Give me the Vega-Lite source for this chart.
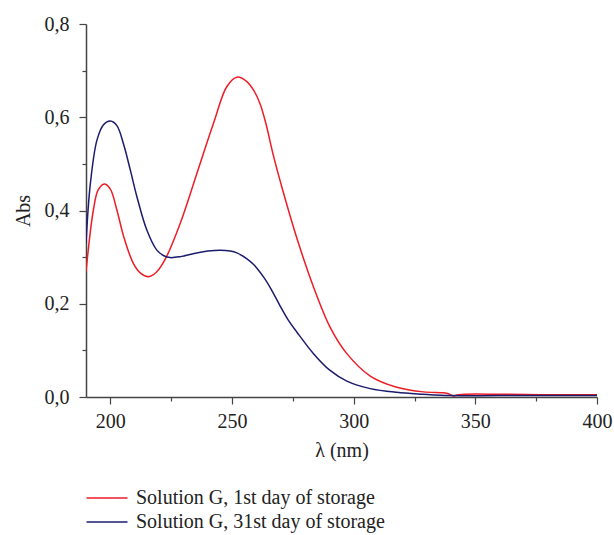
{
  "$schema": "https://vega.github.io/schema/vega-lite/v6.json",
  "autosize": "none",
  "width": 511,
  "height": 373,
  "padding": {"left": 86, "top": 24, "right": 17, "bottom": 138},
  "background": "white",
  "config": {
    "view": {"stroke": null},
    "font": "Liberation Serif"
  },
  "datasets": {
    "spectra": [
      {"nm": 190, "abs": 0.269, "series": "Solution G, 1st day of storage"},
      {"nm": 193, "abs": 0.400, "series": "Solution G, 1st day of storage"},
      {"nm": 195, "abs": 0.444, "series": "Solution G, 1st day of storage"},
      {"nm": 197.5, "abs": 0.457, "series": "Solution G, 1st day of storage"},
      {"nm": 200, "abs": 0.446, "series": "Solution G, 1st day of storage"},
      {"nm": 202.5, "abs": 0.405, "series": "Solution G, 1st day of storage"},
      {"nm": 205.5, "abs": 0.344, "series": "Solution G, 1st day of storage"},
      {"nm": 209.5, "abs": 0.286, "series": "Solution G, 1st day of storage"},
      {"nm": 212.5, "abs": 0.265, "series": "Solution G, 1st day of storage"},
      {"nm": 215.7, "abs": 0.258, "series": "Solution G, 1st day of storage"},
      {"nm": 219, "abs": 0.268, "series": "Solution G, 1st day of storage"},
      {"nm": 223, "abs": 0.300, "series": "Solution G, 1st day of storage"},
      {"nm": 228.7, "abs": 0.372, "series": "Solution G, 1st day of storage"},
      {"nm": 235.6, "abs": 0.480, "series": "Solution G, 1st day of storage"},
      {"nm": 242.4, "abs": 0.587, "series": "Solution G, 1st day of storage"},
      {"nm": 247.9, "abs": 0.666, "series": "Solution G, 1st day of storage"},
      {"nm": 252, "abs": 0.686, "series": "Solution G, 1st day of storage"},
      {"nm": 256, "abs": 0.677, "series": "Solution G, 1st day of storage"},
      {"nm": 259, "abs": 0.657, "series": "Solution G, 1st day of storage"},
      {"nm": 261.6, "abs": 0.628, "series": "Solution G, 1st day of storage"},
      {"nm": 264, "abs": 0.585, "series": "Solution G, 1st day of storage"},
      {"nm": 267.1, "abs": 0.516, "series": "Solution G, 1st day of storage"},
      {"nm": 271.2, "abs": 0.437, "series": "Solution G, 1st day of storage"},
      {"nm": 276.7, "abs": 0.340, "series": "Solution G, 1st day of storage"},
      {"nm": 283.5, "abs": 0.236, "series": "Solution G, 1st day of storage"},
      {"nm": 290.3, "abs": 0.150, "series": "Solution G, 1st day of storage"},
      {"nm": 297.2, "abs": 0.093, "series": "Solution G, 1st day of storage"},
      {"nm": 306.8, "abs": 0.045, "series": "Solution G, 1st day of storage"},
      {"nm": 317.7, "abs": 0.021, "series": "Solution G, 1st day of storage"},
      {"nm": 328.7, "abs": 0.011, "series": "Solution G, 1st day of storage"},
      {"nm": 337, "abs": 0.009, "series": "Solution G, 1st day of storage"},
      {"nm": 339, "abs": 0.007, "series": "Solution G, 1st day of storage"},
      {"nm": 341, "abs": 0.002, "series": "Solution G, 1st day of storage"},
      {"nm": 343, "abs": 0.005, "series": "Solution G, 1st day of storage"},
      {"nm": 360, "abs": 0.006, "series": "Solution G, 1st day of storage"},
      {"nm": 380, "abs": 0.005, "series": "Solution G, 1st day of storage"},
      {"nm": 400, "abs": 0.005, "series": "Solution G, 1st day of storage"},

      {"nm": 190, "abs": 0.330, "series": "Solution G, 31st day of storage"},
      {"nm": 191.8, "abs": 0.458, "series": "Solution G, 31st day of storage"},
      {"nm": 194.5, "abs": 0.551, "series": "Solution G, 31st day of storage"},
      {"nm": 197.2, "abs": 0.584, "series": "Solution G, 31st day of storage"},
      {"nm": 200, "abs": 0.592, "series": "Solution G, 31st day of storage"},
      {"nm": 202.7, "abs": 0.582, "series": "Solution G, 31st day of storage"},
      {"nm": 205.5, "abs": 0.541, "series": "Solution G, 31st day of storage"},
      {"nm": 208.2, "abs": 0.487, "series": "Solution G, 31st day of storage"},
      {"nm": 210.9, "abs": 0.430, "series": "Solution G, 31st day of storage"},
      {"nm": 215, "abs": 0.358, "series": "Solution G, 31st day of storage"},
      {"nm": 219.1, "abs": 0.315, "series": "Solution G, 31st day of storage"},
      {"nm": 222, "abs": 0.303, "series": "Solution G, 31st day of storage"},
      {"nm": 224.6, "abs": 0.299, "series": "Solution G, 31st day of storage"},
      {"nm": 228.7, "abs": 0.301, "series": "Solution G, 31st day of storage"},
      {"nm": 235.6, "abs": 0.309, "series": "Solution G, 31st day of storage"},
      {"nm": 240, "abs": 0.313, "series": "Solution G, 31st day of storage"},
      {"nm": 245.2, "abs": 0.315, "series": "Solution G, 31st day of storage"},
      {"nm": 249.3, "abs": 0.313, "series": "Solution G, 31st day of storage"},
      {"nm": 252, "abs": 0.309, "series": "Solution G, 31st day of storage"},
      {"nm": 256, "abs": 0.297, "series": "Solution G, 31st day of storage"},
      {"nm": 258.9, "abs": 0.284, "series": "Solution G, 31st day of storage"},
      {"nm": 263, "abs": 0.257, "series": "Solution G, 31st day of storage"},
      {"nm": 266, "abs": 0.232, "series": "Solution G, 31st day of storage"},
      {"nm": 269.8, "abs": 0.195, "series": "Solution G, 31st day of storage"},
      {"nm": 273, "abs": 0.166, "series": "Solution G, 31st day of storage"},
      {"nm": 276.7, "abs": 0.139, "series": "Solution G, 31st day of storage"},
      {"nm": 283.5, "abs": 0.093, "series": "Solution G, 31st day of storage"},
      {"nm": 290.3, "abs": 0.057, "series": "Solution G, 31st day of storage"},
      {"nm": 297.2, "abs": 0.034, "series": "Solution G, 31st day of storage"},
      {"nm": 306.8, "abs": 0.018, "series": "Solution G, 31st day of storage"},
      {"nm": 317.7, "abs": 0.010, "series": "Solution G, 31st day of storage"},
      {"nm": 328.5, "abs": 0.006, "series": "Solution G, 31st day of storage"},
      {"nm": 340, "abs": 0.003, "series": "Solution G, 31st day of storage"},
      {"nm": 360, "abs": 0.003, "series": "Solution G, 31st day of storage"},
      {"nm": 400, "abs": 0.003, "series": "Solution G, 31st day of storage"}
    ]
  },
  "data": {"name": "spectra"},
  "mark": {"type": "line", "interpolate": "catmull-rom", "strokeWidth": 1.5, "clip": true},
  "encoding": {
    "x": {
      "field": "nm",
      "type": "quantitative",
      "scale": {"domain": [190, 400], "nice": false, "zero": false},
      "axis": {
        "title": "λ (nm)",
        "titleFont": "Liberation Serif",
        "titleFontSize": 20,
        "titleFontWeight": "normal",
        "titleColor": "#222",
        "titlePadding": 9,
        "values": [200, 225, 250, 275, 300, 325, 350, 375, 400],
        "labelExpr": "datum.value % 50 === 0 ? datum.label : ''",
        "labelFont": "Liberation Serif",
        "labelFontSize": 20,
        "labelColor": "#222",
        "labelPadding": 7,
        "labelOverlap": false,
        "labelFlush": false,
        "grid": false,
        "domainColor": "#444",
        "domainWidth": 1.5,
        "tickColor": "#444",
        "tickWidth": 1.2,
        "tickSize": {"condition": {"test": "datum.value % 50 === 0", "value": 7}, "value": 4}
      }
    },
    "y": {
      "field": "abs",
      "type": "quantitative",
      "scale": {"domain": [0, 0.8], "nice": false},
      "axis": {
        "title": "Abs",
        "titleFont": "Liberation Serif",
        "titleFontSize": 20,
        "titleFontWeight": "normal",
        "titleColor": "#222",
        "titlePadding": 11,
        "values": [0, 0.1, 0.2, 0.3, 0.4, 0.5, 0.6, 0.7, 0.8],
        "labelExpr": "round(datum.value*10) % 2 === 0 ? replace(format(datum.value, '.1f'), '.', ',') : ''",
        "labelFont": "Liberation Serif",
        "labelFontSize": 20,
        "labelColor": "#222",
        "labelPadding": 10,
        "labelOverlap": false,
        "labelFlush": false,
        "grid": false,
        "domainColor": "#444",
        "domainWidth": 1.5,
        "tickColor": "#444",
        "tickWidth": 1.2,
        "tickSize": {"condition": {"test": "round(datum.value*10) % 2 === 0", "value": 7}, "value": 4}
      }
    },
    "color": {
      "field": "series",
      "type": "nominal",
      "scale": {
        "domain": ["Solution G, 1st day of storage", "Solution G, 31st day of storage"],
        "range": ["#ee1c25", "#1c1c6e"]
      },
      "legend": {
        "title": null,
        "orient": "none",
        "legendX": -2,
        "legendY": 463,
        "symbolType": "M-2,0H2",
        "symbolSize": 420,
        "symbolStrokeWidth": 1.5,
        "symbolOffset": 12,
        "labelFont": "Liberation Serif",
        "labelFontSize": 20,
        "labelColor": "#222",
        "labelOffset": 18,
        "rowPadding": 3,
        "labelLimit": 400,
        "padding": 0
      }
    }
  }
}
